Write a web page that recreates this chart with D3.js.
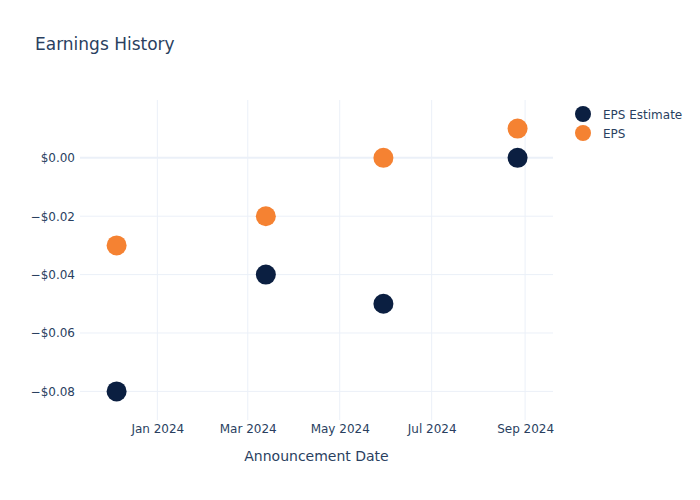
<!DOCTYPE html>
<html><head><meta charset="utf-8">
<script src="https://cdn.jsdelivr.net/npm/d3@7"></script>
<style>body{margin:0;background:#fff;} text{font-family:"DejaVu Sans",sans-serif;}</style>
</head><body>
<svg id="c" width="700" height="500"></svg>
<script>
const dates = ["2023-12-05","2024-03-13","2024-05-30","2024-08-27"];
const epsEstimate = [-0.08,-0.04,-0.05,0.00];
const eps = [-0.03,-0.02,0.00,0.01];
const seriesNames = ["EPS Estimate","EPS"];
const seriesColors = ["#0b1f41","#f58232"];
const yTicks = [0,-0.02,-0.04,-0.06,-0.08];
const xTicks = ["2024-01-01","2024-03-01","2024-05-01","2024-07-01","2024-09-01"];
const xDomain = ["2023-11-10T17:00:00","2024-09-19T12:00:00"];
const yDomain = [-0.0898,0.0198];

const parse = d3.isoParse;
const svg = d3.select("#c");
const m = {l:80, r:147, t:100, b:80};
const W = 700, H = 500;
const x = d3.scaleTime().domain(xDomain.map(parse)).range([m.l, W-m.r]);
const y = d3.scaleLinear().domain(yDomain).range([H-m.b, m.t]);
const txt = "#2a3f5f", grid = "#ebf0f8";

// gridlines
svg.append("g").selectAll("line").data(xTicks).join("line")
  .attr("x1",d=>x(parse(d))).attr("x2",d=>x(parse(d)))
  .attr("y1",m.t).attr("y2",H-m.b).attr("stroke",grid).attr("stroke-width",1);
svg.append("g").selectAll("line").data(yTicks).join("line")
  .attr("x1",m.l).attr("x2",W-m.r)
  .attr("y1",d=>y(d)).attr("y2",d=>y(d)).attr("stroke",grid).attr("stroke-width",d=>d===0?2:1);

const fmt = v => (v<0?"\u2212":"") + "$" + Math.abs(v).toFixed(2);
// y axis
const ya = svg.append("g").attr("transform",`translate(${m.l-2},0)`)
  .call(d3.axisLeft(y).tickValues(yTicks).tickFormat(fmt).tickSize(0));
ya.select(".domain").remove();
ya.selectAll("text").attr("fill",txt).style("font-size","12px").style("font-family","'DejaVu Sans',sans-serif").attr("dx","0");
// x axis
const xa = svg.append("g").attr("transform",`translate(0,${H-m.b+1})`)
  .call(d3.axisBottom(x).tickValues(xTicks.map(parse)).tickFormat(d3.timeFormat("%b %Y")).tickSize(0));
xa.select(".domain").remove();
xa.selectAll("text").attr("fill",txt).style("font-size","12px").style("font-family","'DejaVu Sans',sans-serif").attr("dy","0.71em");

// points
const series = [epsEstimate, eps];
series.forEach((vals,i)=>{
  svg.append("g").selectAll("circle").data(vals).join("circle")
    .attr("cx",(d,j)=>x(parse(dates[j]))).attr("cy",d=>y(d)).attr("r",10)
    .attr("fill",seriesColors[i]);
});

// title
svg.append("text").attr("x",35).attr("y",50).text("Earnings History")
  .attr("fill",txt).style("font-size","17px");
// axis title
svg.append("text").attr("x",(m.l+W-m.r)/2).attr("y",461).attr("text-anchor","middle")
  .text("Announcement Date").attr("fill",txt).style("font-size","14px");

// legend
const lg = svg.append("g");
seriesNames.forEach((n,i)=>{
  lg.append("circle").attr("cx",583).attr("cy",114+i*19).attr("r",8).attr("fill",seriesColors[i]);
  lg.append("text").attr("x",603).attr("y",119+i*19).text(n).attr("fill",txt).style("font-size","12px");
});
</script>
</body></html>
